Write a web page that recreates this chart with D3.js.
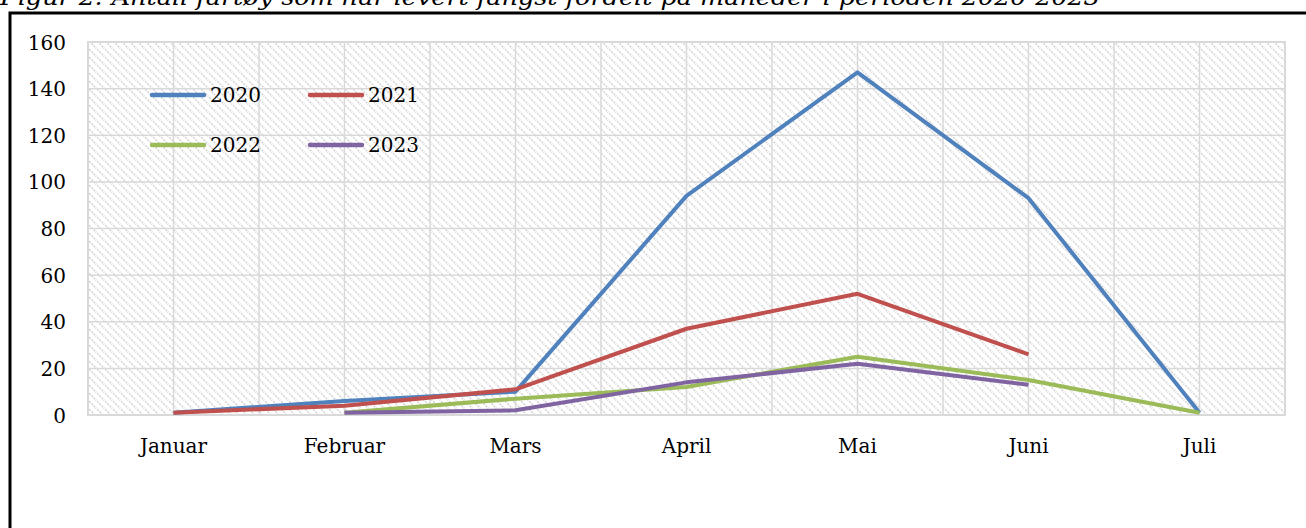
<!DOCTYPE html>
<html>
<head>
<meta charset="utf-8">
<script src="https://cdn.jsdelivr.net/npm/d3@7"></script>
<style>
body { margin: 0; background: #fff; }
svg { display: block; }
.axis text { font-family: "DejaVu Serif", serif; font-size: 20px; fill: #000; }
.axis .domain { display: none; }
</style>
</head>
<body>
<div id="chart"></div>
<script>
var months = ["Januar", "Februar", "Mars", "April", "Mai", "Juni", "Juli"];
var years = ["2020", "2021", "2022", "2023"];
var v2020 = [1, 6, 10, 94, 147, 93, 1];
var v2021 = [1, 4, 11, 37, 52, 26, null];
var v2022 = [null, 1, 7, 12, 25, 15, 1];
var v2023 = [null, 1, 2, 14, 22, 13, null];
var yTicks = [0, 20, 40, 60, 80, 100, 120, 140, 160];
var colors = ["#4f81bd", "#c0504d", "#9bbb59", "#8064a2"];

var width = 1306, height = 528;
var plot = {left: 88, right: 1285, top: 42, bottom: 415};

var svg = d3.select("#chart").append("svg")
  .attr("width", width)
  .attr("height", height);

// hatch pattern for the plot area
var defs = svg.append("defs");
var pat = defs.append("pattern")
  .attr("id", "hatch")
  .attr("patternUnits", "userSpaceOnUse")
  .attr("width", 8)
  .attr("height", 8);
pat.append("rect").attr("width", 8).attr("height", 8).attr("fill", "#fff");
pat.append("path")
  .attr("d", "M-1,-1 L9,9 M-1,7 L1,9 M7,-1 L9,1")
  .attr("stroke", "#d2d2d2")
  .attr("stroke-width", 1.5)
  .attr("stroke-dasharray", "2,1.2");

// title (cut off at the top, as in the original)
svg.append("text")
  .attr("x", 0)
  .attr("y", 5)
  .attr("font-family", "DejaVu Serif, serif")
  .attr("font-style", "italic")
  .attr("font-size", 22)
  .attr("textLength", 1100)
  .attr("lengthAdjust", "spacingAndGlyphs")
  .text("Figur 2: Antall fartøy som har levert fangst fordelt på måneder i perioden 2020-2023");

// outer frame
svg.append("rect")
  .attr("x", 10)
  .attr("y", 13)
  .attr("width", 1320)
  .attr("height", 600)
  .attr("fill", "none")
  .attr("stroke", "#000")
  .attr("stroke-width", 3);

var x = d3.scaleBand()
  .domain(months)
  .range([plot.left, plot.right])
  .padding(0);

var y = d3.scaleLinear()
  .domain([0, 160])
  .range([plot.bottom, plot.top]);

function cx(m) { return x(m) + x.bandwidth() / 2; }

svg.append("rect")
  .attr("x", plot.left)
  .attr("y", plot.top)
  .attr("width", plot.right - plot.left)
  .attr("height", plot.bottom - plot.top)
  .attr("fill", "url(#hatch)");

// gridlines
var grid = svg.append("g").attr("stroke", "#d9d9d9").attr("stroke-width", 1.5);
grid.selectAll(".hgrid")
  .data(yTicks)
  .enter().append("line")
  .attr("x1", plot.left).attr("x2", plot.right)
  .attr("y1", d => y(d)).attr("y2", d => y(d));

var vpos = [];
months.forEach(function (m) { vpos.push(x(m)); vpos.push(cx(m)); });
vpos.push(plot.right);
grid.selectAll(".vgrid")
  .data(vpos)
  .enter().append("line")
  .attr("x1", d => d).attr("x2", d => d)
  .attr("y1", plot.top).attr("y2", plot.bottom);

svg.append("rect")
  .attr("x", plot.left)
  .attr("y", plot.top)
  .attr("width", plot.right - plot.left)
  .attr("height", plot.bottom - plot.top)
  .attr("fill", "none")
  .attr("stroke", "#d9d9d9")
  .attr("stroke-width", 2);

// axes
svg.append("g")
  .attr("class", "axis")
  .attr("transform", "translate(" + (plot.left - 22) + ",0)")
  .call(d3.axisLeft(y).tickValues(yTicks).tickSize(0).tickPadding(0))
  .selectAll("text").attr("dy", "0.35em");

svg.append("g")
  .attr("class", "axis")
  .attr("transform", "translate(0," + (plot.bottom + 31) + ")")
  .call(d3.axisBottom(x).tickSize(0).tickPadding(0))
  .selectAll("text").attr("dy", "0.35em");

// lines
var series = [v2020, v2021, v2022, v2023];
var line = d3.line()
  .defined(d => d.v != null)
  .x(d => cx(d.m))
  .y(d => y(d.v));

series.forEach(function (vals, i) {
  var pts = months.map(function (m, j) { return {m: m, v: vals[j]}; });
  svg.append("path")
    .datum(pts)
    .attr("fill", "none")
    .attr("stroke", colors[i])
    .attr("stroke-width", 4)
    .attr("stroke-linejoin", "round")
    .attr("d", line);
});

// legend
var legend = svg.selectAll(".legend")
  .data(years)
  .enter().append("g")
  .attr("class", "legend")
  .attr("transform", function (d, i) {
    return "translate(" + (152 + (i % 2) * 158) + "," + (95 + Math.floor(i / 2) * 50) + ")";
  });

legend.append("line")
  .attr("x1", 0).attr("x2", 52)
  .attr("y1", 0).attr("y2", 0)
  .attr("stroke", (d, i) => colors[i])
  .attr("stroke-width", 4.5)
  .attr("stroke-linecap", "round");

legend.append("text")
  .attr("x", 58)
  .attr("y", 0)
  .attr("dy", "0.35em")
  .attr("font-family", "DejaVu Serif, serif")
  .attr("font-size", 20)
  .text(d => d);
</script>
</body>
</html>
